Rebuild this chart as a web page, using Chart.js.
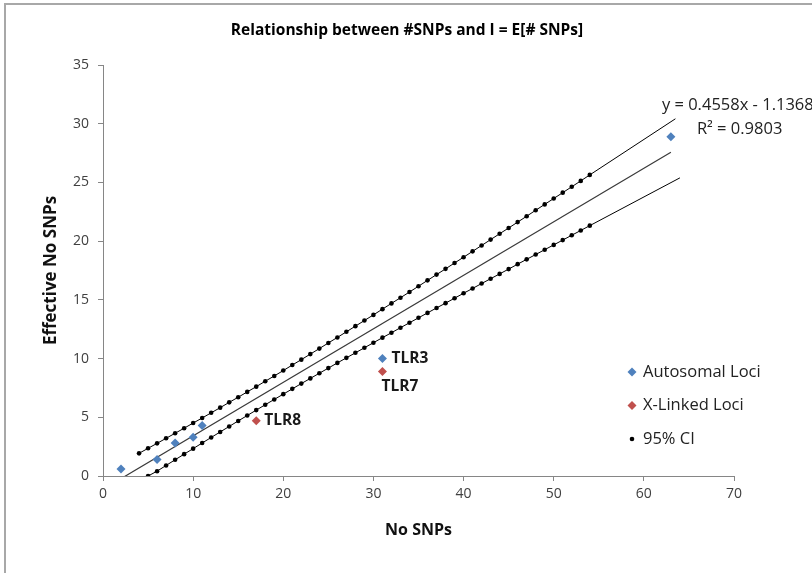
<!DOCTYPE html>
<html>
<head>
<meta charset="utf-8">
<script src="https://cdn.jsdelivr.net/npm/chart.js@4.4.1/dist/chart.umd.min.js"></script>
<style>
  html, body { margin: 0; padding: 0; background: #fff; overflow: hidden; }
  #wrap { position: relative; width: 812px; height: 573px; }
  #frame { position: absolute; left: 4px; top: 3px; right: 0; bottom: 0; border-left: 2px solid #a8a8a8; border-top: 2px solid #a8a8a8; pointer-events: none; }
</style>
</head>
<body>
<div id="wrap">
  <canvas id="snpChart" width="812" height="573"></canvas>
  <div id="frame"></div>
</div>
<script>
const chartTitle = 'Relationship between #SNPs and I = E[# SNPs]';
const xTitle = 'No SNPs';
const yTitle = 'Effective No SNPs';
const xRange = [0, 70, 10];
const yRange = [0, 35, 5];

// observed loci
const autosomalX = [2, 6, 8, 10, 11, 31, 63];
const autosomalY = [0.6, 1.4, 2.8, 3.3, 4.3, 10.0, 28.9];
const autosomalNames = ['', '', '', '', '', 'TLR3', ''];
const xLinkedX = [17, 31];
const xLinkedY = [4.7, 8.9];
const xLinkedNames = ['TLR8', 'TLR7'];

// fitted line (Excel trendline on autosomal loci)
const trendSlope = 0.4558;
const trendIntercept = -1.1368;
const trendR2 = 0.9803;
const trendX = [2, 63];

// 95% CI bands, one point per SNP count, then a plain line out to the end
const ciUpperStartX = 4;
const ciUpperY = [1.93, 2.36, 2.78, 3.21, 3.64, 4.07, 4.51, 4.94, 5.38, 5.82,
  6.27, 6.71, 7.16, 7.61, 8.07, 8.52, 8.98, 9.45, 9.91, 10.38,
  10.85, 11.33, 11.80, 12.28, 12.76, 13.24, 13.72, 14.21, 14.70, 15.18,
  15.67, 16.16, 16.66, 17.15, 17.64, 18.14, 18.63, 19.13, 19.63, 20.13,
  20.63, 21.12, 21.62, 22.12, 22.63, 23.13, 23.63, 24.13, 24.63, 25.13, 25.64];
const ciUpperEnd = [63.5, 30.42];
const ciLowerStartX = 5;
const ciLowerY = [0.0, 0.41, 0.90, 1.38, 1.86, 2.33, 2.81, 3.28, 3.75, 4.22,
  4.69, 5.15, 5.61, 6.07, 6.52, 6.97, 7.42, 7.87, 8.31, 8.75,
  9.19, 9.63, 10.06, 10.49, 10.92, 11.35, 11.78, 12.20, 12.63, 13.05,
  13.47, 13.89, 14.31, 14.72, 15.14, 15.56, 15.97, 16.39, 16.80, 17.21,
  17.62, 18.04, 18.45, 18.86, 19.27, 19.68, 20.09, 20.50, 20.91, 21.32];
const ciLowerEnd = [64, 25.39];

const colorAuto = '#4F81BD';
const colorX = '#C0504D';
const axisGray = '#868686';
const fontFamily = '"Open Sans", "Liberation Sans", sans-serif';

function toPoints(xs, ys) {
  return xs.map((x, i) => ({ x: x, y: ys[i] }));
}
function ciPoints(startX, ys, end) {
  const pts = ys.map((y, i) => ({ x: startX + i, y: y }));
  pts.push({ x: end[0], y: end[1] });
  return pts;
}
const ciRadius = (ctx) => (ctx.raw && ctx.raw.x > 54 ? 0 : 2.3);

// where the point names sit relative to their marker
const nameOffsets = {
  TLR3: { dx: 9, dy: 0 },
  TLR7: { dx: -1, dy: 15 },
  TLR8: { dx: 8, dy: 0 }
};

const legendItems = [
  { text: 'Autosomal Loci', color: colorAuto, style: 'diamond' },
  { text: 'X-Linked Loci', color: colorX, style: 'diamond' },
  { text: '95% CI', color: '#000', style: 'dot' }
];

function drawDiamond(ctx, x, y, r, color) {
  ctx.fillStyle = color;
  ctx.beginPath();
  ctx.moveTo(x, y - r);
  ctx.lineTo(x + r, y);
  ctx.lineTo(x, y + r);
  ctx.lineTo(x - r, y);
  ctx.closePath();
  ctx.fill();
}

const annotations = {
  id: 'annotations',
  afterDraw(chart) {
    const ctx = chart.ctx;
    const xs = chart.scales.x, ys = chart.scales.y;
    ctx.save();

    // title
    ctx.fillStyle = '#000';
    ctx.font = 'bold 15.5px ' + fontFamily;
    ctx.textAlign = 'center';
    ctx.textBaseline = 'middle';
    ctx.fillText(chartTitle, 407, 31);

    // point names
    ctx.font = 'bold 15.5px ' + fontFamily;
    ctx.textAlign = 'left';
    ctx.fillStyle = '#1a1a1a';
    const named = [[autosomalX, autosomalY, autosomalNames], [xLinkedX, xLinkedY, xLinkedNames]];
    named.forEach(([px, py, names]) => {
      names.forEach((name, i) => {
        if (!name) return;
        const off = nameOffsets[name] || { dx: 8, dy: 0 };
        ctx.fillText(name, xs.getPixelForValue(px[i]) + off.dx, ys.getPixelForValue(py[i]) + off.dy);
      });
    });

    // trendline equation
    ctx.font = '16.5px ' + fontFamily;
    ctx.fillStyle = '#222';
    const ex = xs.getPixelForValue(trendX[1]);
    const ey = ys.getPixelForValue(trendSlope * trendX[1] + trendIntercept);
    const sign = trendIntercept < 0 ? '- ' : '+ ';
    ctx.fillText('y = ' + trendSlope + 'x ' + sign + Math.abs(trendIntercept), ex - 9, ey - 47);
    ctx.fillText('R\u00B2 = ' + trendR2, ex + 26, ey - 23);

    // legend
    ctx.font = '16.5px ' + fontFamily;
    legendItems.forEach((item, i) => {
      const ly = 372 + i * 33.5;
      if (item.style === 'diamond') drawDiamond(ctx, 632, ly, 4.5, item.color);
      else {
        ctx.fillStyle = item.color;
        ctx.beginPath();
        ctx.arc(632, ly, 2.3, 0, Math.PI * 2);
        ctx.fill();
      }
      ctx.fillStyle = '#222';
      ctx.fillText(item.text, 643, ly);
    });
    ctx.restore();
  }
};

const trendPoints = trendX.map((x) => ({ x: x, y: trendSlope * x + trendIntercept }));

new Chart(document.getElementById('snpChart'), {
  type: 'scatter',
  data: {
    datasets: [
      {
        label: 'Autosomal Loci',
        data: toPoints(autosomalX, autosomalY),
        backgroundColor: colorAuto,
        borderWidth: 0,
        pointStyle: 'rectRot',
        pointRadius: 4.5
      },
      {
        label: 'X-Linked Loci',
        data: toPoints(xLinkedX, xLinkedY),
        backgroundColor: colorX,
        borderWidth: 0,
        pointStyle: 'rectRot',
        pointRadius: 4.5
      },
      {
        label: 'Linear fit',
        data: trendPoints,
        showLine: true,
        borderColor: '#3a3a3a',
        borderWidth: 1.2,
        pointRadius: 0
      },
      {
        label: '95% CI',
        data: ciPoints(ciUpperStartX, ciUpperY, ciUpperEnd),
        showLine: true,
        borderColor: '#000',
        borderWidth: 1,
        backgroundColor: '#000',
        pointBorderWidth: 0,
        pointRadius: ciRadius
      },
      {
        label: '95% CI lower',
        data: ciPoints(ciLowerStartX, ciLowerY, ciLowerEnd),
        showLine: true,
        borderColor: '#000',
        borderWidth: 1,
        backgroundColor: '#000',
        pointBorderWidth: 0,
        pointRadius: ciRadius
      }
    ]
  },
  options: {
    responsive: false,
    animation: false,
    layout: { padding: { left: 38, right: 78, top: 65, bottom: 27 } },
    plugins: {
      legend: { display: false },
      tooltip: { enabled: false },
      title: { display: false }
    },
    scales: {
      x: {
        type: 'linear',
        min: xRange[0],
        max: xRange[1],
        afterFit: (scale) => { scale.height = 70; },
        ticks: { stepSize: xRange[2], padding: 5, color: '#404040', font: { family: fontFamily, size: 14 } },
        grid: { display: true, drawOnChartArea: false, drawTicks: true, tickLength: 5, color: axisGray },
        border: { color: axisGray, width: 1 },
        title: { display: true, text: xTitle, color: '#111', padding: { top: 4, bottom: 5.5 }, font: { family: fontFamily, size: 16, weight: 'bold' } }
      },
      y: {
        type: 'linear',
        min: yRange[0],
        max: yRange[1],
        afterFit: (scale) => { scale.width = 65; },
        ticks: { stepSize: yRange[2], padding: 9, color: '#404040', font: { family: fontFamily, size: 14 } },
        grid: { display: true, drawOnChartArea: false, drawTicks: true, tickLength: 5, color: axisGray },
        border: { color: axisGray, width: 1 },
        title: { display: true, text: yTitle, color: '#111', padding: { top: 3, bottom: 4 }, font: { family: fontFamily, size: 17, weight: 'bold' } }
      }
    }
  },
  plugins: [annotations]
});
</script>
</body>
</html>
